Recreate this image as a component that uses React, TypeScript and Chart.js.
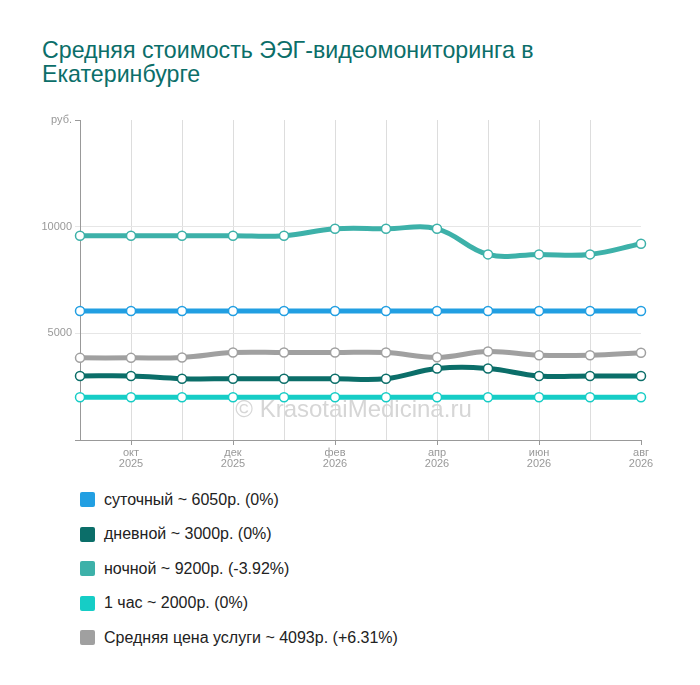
import { useEffect, useRef } from "react"
import { Chart, registerables } from "chart.js"

Chart.register(...registerables)

const FONT = "'Liberation Sans', Arial, sans-serif"

const months = ["сен", "окт", "ноя", "дек", "янв", "фев", "мар", "апр", "май", "июн", "июл", "авг"]
const years = ["2025", "2025", "2025", "2025", "2026", "2026", "2026", "2026", "2026", "2026", "2026", "2026"]

const sutochny = [6050, 6050, 6050, 6050, 6050, 6050, 6050, 6050, 6050, 6050, 6050, 6050]
const dnevnoy = [3000, 3000, 2875, 2875, 2875, 2875, 2875, 3350, 3350, 3000, 3000, 3000]
const nochnoy = [9575, 9575, 9575, 9575, 9575, 9900, 9900, 9900, 8700, 8700, 8700, 9200]
const odinChas = [2000, 2000, 2000, 2000, 2000, 2000, 2000, 2000, 2000, 2000, 2000, 2000]
const srednyaya = [3850, 3850, 3870, 4100, 4100, 4100, 4100, 3875, 4150, 3975, 3975, 4093]

const seriesNames = [
  "суточный ~ 6050р. (0%)",
  "дневной ~ 3000р. (0%)",
  "ночной ~ 9200р. (-3.92%)",
  "1 час ~ 2000р. (0%)",
  "Средняя цена услуги ~ 4093р. (+6.31%)",
]
const seriesColors = ["#229fe2", "#0b6e69", "#3db1a9", "#16cdc6", "#a0a0a0"]
const seriesData = [sutochny, dnevnoy, nochnoy, odinChas, srednyaya]

const yTicks = [0, 5000, 10000, 15000]

// watermark behind the lines
const watermark = {
  id: "watermark",
  beforeDatasetsDraw(chart: Chart) {
    const { ctx, chartArea } = chart
    ctx.save()
    ctx.font = `24px ${FONT}`
    ctx.fillStyle = "#d6d6d6"
    ctx.textAlign = "center"
    ctx.textBaseline = "alphabetic"
    ctx.fillText("© KrasotaiMedicina.ru", (chartArea.left + chartArea.right) / 2 - 7, chartArea.bottom - 23)
    ctx.restore()
  },
}

function PriceChart() {
  const chartRef = useRef<HTMLCanvasElement>(null)
  const chartInstance = useRef<Chart | null>(null)

  useEffect(() => {
    if (!chartRef.current) return
    const ctx = chartRef.current.getContext("2d")
    if (!ctx) return
    if (chartInstance.current) chartInstance.current.destroy()

    const last = months.length - 1

    chartInstance.current = new Chart(ctx, {
      type: "line",
      data: {
        labels: months.map((m, i) => [m, years[i]]),
        datasets: seriesData.map((d, i) => ({
          label: seriesNames[i],
          data: d,
          borderColor: seriesColors[i],
          backgroundColor: seriesColors[i],
          borderWidth: 5,
          tension: 0.4,
          fill: false,
          pointRadius: 4.5,
          pointBackgroundColor: "#ffffff",
          pointBorderColor: seriesColors[i],
          pointBorderWidth: 1.5,
        })),
      },
      options: {
        responsive: true,
        maintainAspectRatio: false,
        animation: false,
        layout: { padding: { top: 20, right: 59, left: 0, bottom: 0 } },
        plugins: {
          legend: { display: false },
          title: { display: false },
          tooltip: { enabled: false },
        },
        scales: {
          x: {
            afterFit: (scale: any) => {
              scale.height = 40
            },
            border: { color: "#999999", width: 1 },
            grid: {
              color: (c: any) => (c.index === 0 || c.index === last ? "transparent" : "#dddddd"),
              tickColor: (c: any) => (c.index % 2 === 1 ? "#999999" : "transparent"),
              tickLength: 5,
            },
            ticks: {
              autoSkip: false,
              maxRotation: 0,
              color: "#999999",
              padding: 3,
              font: { family: FONT, size: 11, lineHeight: 0.95 },
              callback: (_v: any, i: number) => (i % 2 === 1 ? [months[i], years[i]] : ""),
            },
          },
          y: {
            min: yTicks[0],
            max: yTicks[yTicks.length - 1],
            afterFit: (scale: any) => {
              scale.width = 80
            },
            afterBuildTicks: (scale: any) => {
              scale.ticks = yTicks.map((v) => ({ value: v }))
            },
            border: { color: "#999999", width: 1 },
            grid: {
              color: (c: any) =>
                c.tick && (c.tick.value === 0 || c.tick.value === 15000) ? "transparent" : "#e6e6e6",
              tickColor: (c: any) =>
                c.tick && (c.tick.value === 0 || c.tick.value === 15000) ? "#999999" : "#e6e6e6",
              tickLength: 5,
            },
            ticks: {
              color: "#999999",
              padding: 3,
              font: { family: FONT, size: 11 },
              callback: (v: any) => (v === 15000 ? "руб." : v === 0 ? "" : String(v)),
            },
          },
        },
      },
      plugins: [watermark],
    })

    return () => {
      if (chartInstance.current) {
        chartInstance.current.destroy()
        chartInstance.current = null
      }
    }
  }, [])

  return (
    <div style={{ position: "absolute", left: 0, top: 100, width: 700, height: 380 }}>
      <canvas ref={chartRef} />
    </div>
  )
}

export default function App() {
  return (
    <div style={{ fontFamily: FONT }}>
      <div
        style={{
          position: "absolute",
          left: 42,
          top: 38,
          width: 540,
          fontSize: 23.2,
          lineHeight: "24px",
          color: "#0b6e69",
        }}
      >
        Средняя стоимость ЭЭГ-видеомониторинга в Екатеринбурге
      </div>
      <PriceChart />
      {seriesNames.map((name, i) => (
        <div
          key={name}
          style={{
            position: "absolute",
            left: 80,
            top: 490 + i * 34.5,
            height: 19,
            display: "flex",
            alignItems: "center",
            fontSize: 16,
            color: "#222222",
            whiteSpace: "nowrap",
          }}
        >
          <span
            style={{
              display: "inline-block",
              width: 15,
              height: 15,
              borderRadius: 2,
              background: seriesColors[i],
              marginRight: 9,
            }}
          />
          {name}
        </div>
      ))}
    </div>
  )
}
